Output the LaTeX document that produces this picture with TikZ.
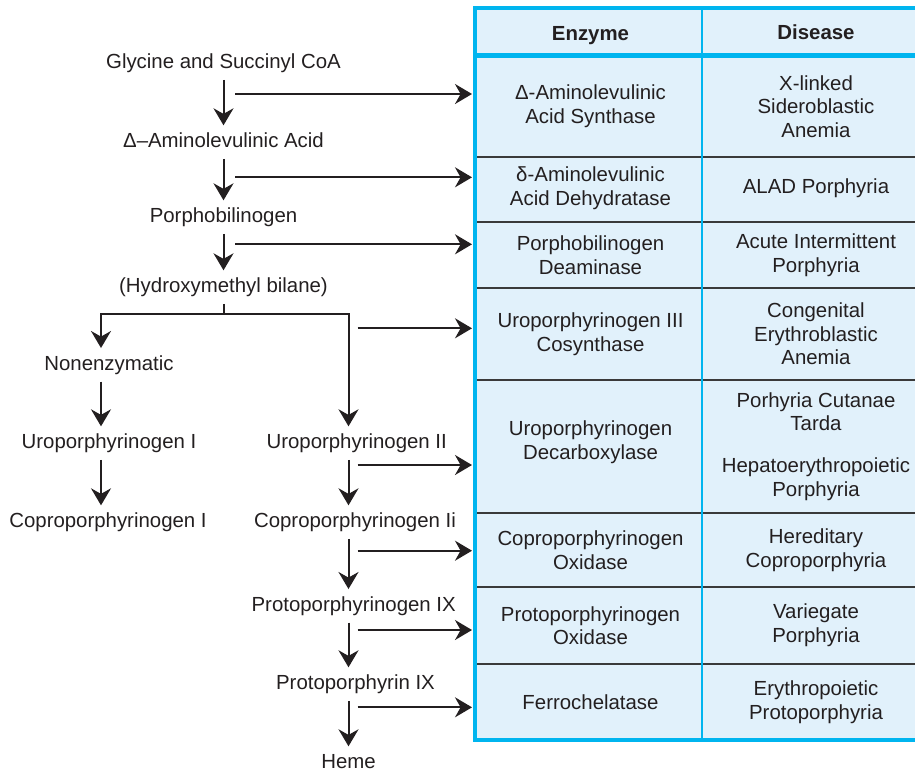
\documentclass[tikz,border=0pt]{standalone}
\usepackage{fontspec}
\setmainfont{Liberation Sans}
\usetikzlibrary{arrows.meta}
\definecolor{ink}{HTML}{231F20}
\definecolor{tabblue}{HTML}{00B5EF}
\definecolor{cellfill}{HTML}{E1F1FB}
\definecolor{rulegray}{HTML}{3A3A3A}

\begin{document}
\begin{tikzpicture}[
  flow/.style={anchor=base, inner sep=3.4pt, text height=7.4pt, text depth=2.2pt, text=ink, font=\fontsize{10.2}{12}\selectfont},
  cell/.style={align=center, text=ink, font=\fontsize{10.2}{11.8}\selectfont},
  head/.style={cell, anchor=base, font=\fontsize{10.2}{11.8}\selectfont\bfseries},
  arr/.style={draw=ink, line width=1pt, -{Stealth[length=8.5pt, width=10pt, inset=2.8pt]}},
  branch/.style={draw=ink, line width=1pt},
]
\begin{scope}[x=0.5pt, y=-0.5pt]
  \useasboundingbox (0,0) rectangle (915,773);
  % table
  \fill[cellfill] (475,8) rectangle (931,740);
  \foreach \y in {157,222,288,380,513,587,664} \draw[rulegray, line width=0.6pt] (475,\y) -- (931,\y);
  \draw[tabblue, line width=1.2pt] (702,8) -- (702,740);
  \draw[tabblue, line width=2.5pt] (475,55.5) -- (931,55.5);
  \draw[tabblue, line width=2pt] (931,8) -- (475,8) -- (475,740) -- (931,740);
  \node[head] (hE) at (590.5,40) {Enzyme};
  \node[head] (hD) at (816,39.5) {Disease};
  \node[cell] (e1) at (590.5,106.5) {Δ-Aminolevulinic\\Acid Synthase};
  \node[cell] (d1) at (816,106.5) {X-linked\\Sideroblastic\\Anemia};
  \node[cell] (e2) at (590.5,188) {δ-Aminolevulinic\\Acid Dehydratase};
  \node[cell] (d2) at (816,188) {ALAD Porphyria};
  \node[cell] (e3) at (590.5,255) {Porphobilinogen\\Deaminase};
  \node[cell] (d3) at (816,255) {Acute Intermittent\\Porphyria};
  \node[cell] (e4) at (590.5,334) {Uroporphyrinogen III\\Cosynthase};
  \node[cell] (d4) at (816,334) {Congenital\\Erythroblastic\\Anemia};
  \node[cell] (e5) at (590.5,442) {Uroporphyrinogen\\Decarboxylase};
  \node[cell] (d5) at (816,446.5) {Porhyria Cutanae\\Tarda\\[9pt]Hepatoerythropoietic\\Porphyria};
  \node[cell] (e6) at (590.5,550) {Coproporphyrinogen\\Oxidase};
  \node[cell] (d6) at (816,550) {Hereditary\\Coproporphyria};
  \node[cell] (e7) at (590.5,625.5) {Protoporphyrinogen\\Oxidase};
  \node[cell] (d7) at (816,625.5) {Variegate\\Porphyria};
  \node[cell] (e8) at (590.5,702) {Ferrochelatase};
  \node[cell] (d8) at (816,702) {Erythropoietic\\Protoporphyria};
  % pathway
  \node[flow] (gly) at (223.5,68.3) {Glycine and Succinyl CoA};
  \node[flow] (ala) at (223.5,147.3) {Δ–Aminolevulinic Acid};
  \node[flow] (pbg) at (223.5,222.3) {Porphobilinogen};
  \node[flow] (hmb) at (223.5,292.3) {(Hydroxymethyl bilane)};
  \node[flow] (non) at (109,370) {Nonenzymatic};
  \node[flow] (uroI) at (109,448.3) {Uroporphyrinogen I};
  \node[flow] (coproI) at (108,527.3) {Coproporphyrinogen I};
  \node[flow] (uroIII) at (356.7,448.3) {Uroporphyrinogen II};
  \node[flow] (coproIII) at (355,527.3) {Coproporphyrinogen Ii};
  \node[flow] (protogen) at (353.7,611) {Protoporphyrinogen IX};
  \node[flow] (proto) at (355.5,689.3) {Protoporphyrin IX};
  \node[flow] (heme) at (348.5,768.3) {Heme};
  \coordinate (lcol) at (101,0);
  \coordinate (split) at (223.5,314);
  \coordinate (tab) at (472,0);
  \draw[arr] (gly) -- (ala);
  \draw[arr] (ala) -- (pbg);
  \draw[arr] (pbg) -- (hmb);
  \draw[branch] (hmb) -- (split);
  \draw[arr] (split) -| (non.north -| lcol);
  \draw[arr] (split) -| (uroIII.north -| heme);
  \draw[arr] (non.south -| lcol) -- (uroI.north -| lcol);
  \draw[arr] (uroI.south -| lcol) -- (coproI.north -| lcol);
  \draw[arr] (uroIII.south -| heme) -- (coproIII.north -| heme);
  \draw[arr] (coproIII.south -| heme) -- (protogen.north -| heme);
  \draw[arr] (protogen.south -| heme) -- (proto.north -| heme);
  \draw[arr] (proto.south -| heme) -- (heme);
  % enzyme arrows
  \foreach \i/\x/\y in {1/235/94, 2/235/177.3, 3/235/244.3, 4/357.7/328.3, 5/357.7/465, 6/357.7/550.7, 7/357.7/630, 8/357.7/707.3} {
    \coordinate (s\i) at (\x,\y);
    \draw[arr] (s\i) -- (s\i -| tab);
  }
\end{scope}
\end{tikzpicture}
\end{document}
